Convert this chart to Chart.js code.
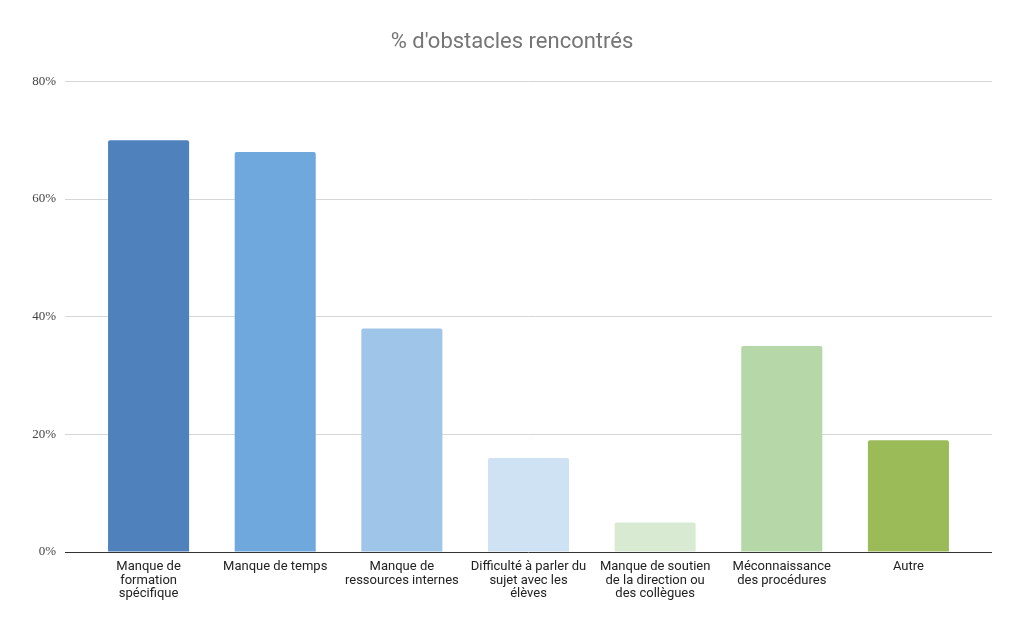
<!DOCTYPE html>
<html>
<head>
<meta charset="utf-8">
<script src="https://cdn.jsdelivr.net/npm/chart.js@4"></script>
<style>
html,body{margin:0;padding:0;background:#fff;}
#wrap{width:1024px;height:631px;}
</style>
</head>
<body>
<div id="wrap"><canvas id="c"></canvas></div>
<script>
const categories = [
  ["Manque de", "formation", "spécifique"],
  ["Manque de temps"],
  ["Manque de", "ressources internes"],
  ["Difficulté à parler du", "sujet avec les", "élèves"],
  ["Manque de soutien", "de la direction ou", "des collègues"],
  ["Méconnaissance", "des procédures"],
  ["Autre"]
];
const values = [70, 68, 38, 16, 5, 35, 19];
const barColors = ["#4f81bd", "#6fa8dc", "#9fc5e8", "#cfe2f3", "#d9ead3", "#b6d7a8", "#9bbb59"];
const yTicks = [0, 20, 40, 60, 80];
const titleText = "% d'obstacles rencontrés";

const points = values.map((v, i) => ({x: i, y: v}));

new Chart(document.getElementById('c'), {
  type: 'bar',
  data: {
    datasets: [{
      data: points,
      backgroundColor: barColors,
      borderWidth: 0,
      borderRadius: 2,
      borderSkipped: 'bottom',
      barPercentage: 0.64,
      categoryPercentage: 1
    }]
  },
  options: {
    responsive: true,
    maintainAspectRatio: false,
    animation: false,
    layout: {padding: {left: 32, right: 32, top: 0, bottom: 0}},
    plugins: {
      legend: {display: false},
      tooltip: {enabled: false},
      title: {
        display: true,
        text: titleText,
        color: '#757575',
        font: {family: 'Roboto', size: 22, weight: 'normal'},
        padding: {top: 29, bottom: 26}
      }
    },
    scales: {
      x: {
        type: 'linear',
        offset: false,
        min: -0.66,
        max: 6.66,
        grid: {display: false},
        border: {display: false},
        afterBuildTicks: (scale) => { scale.ticks = categories.map((_, i) => ({value: i})); },
        afterFit: (scale) => { scale.height = 79; },
        ticks: {
          autoSkip: false,
          maxRotation: 0,
          padding: 0,
          color: '#222',
          font: {family: 'Roboto', size: 13, lineHeight: 1.05},
          callback: (value) => categories[value]
        }
      },
      y: {
        min: 0,
        max: 80,
        afterBuildTicks: (scale) => { scale.ticks = yTicks.map(v => ({value: v})); },
        afterFit: (scale) => { scale.width = 33; },
        border: {display: false},
        grid: {
          drawTicks: false,
          color: (ctx) => ctx.tick && ctx.tick.value === 0 ? '#333333' : '#d6d6d6',
          lineWidth: 1
        },
        ticks: {
          padding: 9,
          color: '#444',
          font: {family: 'Liberation Serif', size: 13},
          callback: (v) => v + '%'
        }
      }
    }
  }
});
</script>
</body>
</html>
